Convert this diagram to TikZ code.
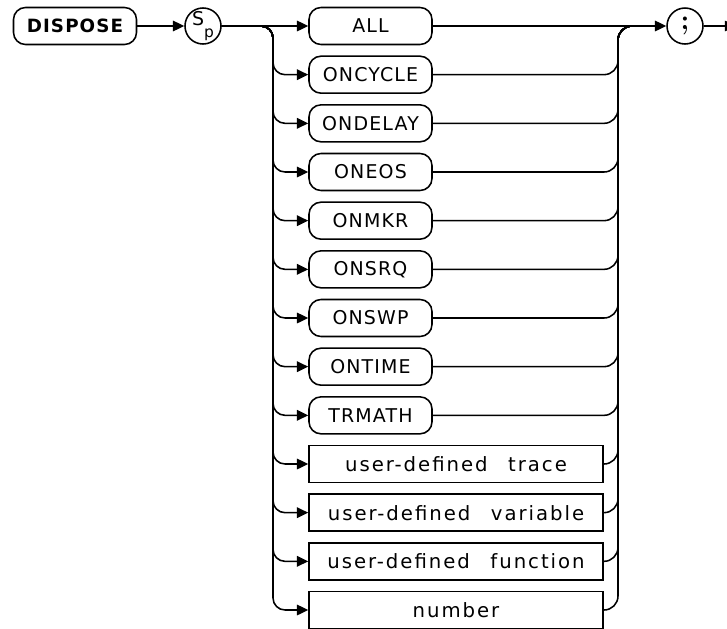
\documentclass[tikz,border=0pt]{standalone}
\usepackage{fontspec}
\newfontfamily\plotfont[LetterSpace=6]{DejaVu Sans}
\newfontfamily\plotwide[LetterSpace=10,WordSpace=2.5]{DejaVu Sans}
\usetikzlibrary{arrows.meta,positioning}

\begin{document}
\begin{tikzpicture}[
  font=\plotfont\fontsize{13.5}{15}\selectfont,
  node distance=0.253cm,
  key/.style={draw, line width=1.1pt, rounded corners=0.3cm, minimum width=3.075cm, minimum height=0.925cm, inner sep=2pt},
  param/.style={draw, line width=1.1pt, minimum width=7.35cm, minimum height=0.925cm, inner sep=2pt, font=\plotwide\fontsize{14}{16}\selectfont},
  term/.style={draw, line width=1.1pt, circle, minimum size=0.9cm, inner sep=0pt},
  arr/.style={-{Triangle[length=8pt,width=7.5pt]}, line width=1.1pt},
  wire/.style={line width=1.1pt}
]
  \useasboundingbox (0,0) rectangle (18.175,-15.725);
  \node[key, font=\plotfont\bfseries\fontsize{13}{15}\selectfont] (dispose) at (1.875,-0.65) {DISPOSE};
  \node[term] (sp) at (5.075,-0.65) {\raisebox{0.4ex}{S}\raisebox{-0.7ex}{\fontsize{11}{12}\selectfont p}};
  \node[key] (all) at (9.2625,-0.65) {ALL};
  \node[key, below=of all] (oncycle) {ONCYCLE};
  \node[key, below=of oncycle] (ondelay) {ONDELAY};
  \node[key, below=of ondelay] (oneos) {ONEOS};
  \node[key, below=of oneos] (onmkr) {ONMKR};
  \node[key, below=of onmkr] (onsrq) {ONSRQ};
  \node[key, below=of onsrq] (onswp) {ONSWP};
  \node[key, below=of onswp] (ontime) {ONTIME};
  \node[key, below=of ontime] (trmath) {TRMATH};
  \node[param, below=of trmath.south west, anchor=north west] (trace) {user-defined trace};
  \node[param, below=of trace] (variable) {user-defined variable};
  \node[param, below=of variable] (function) {user-defined function};
  \node[param, below=of function] (number) {number};
  \node[term, font=\bfseries\fontsize{20}{20}\selectfont] (semi) at (17.125,-0.65) {;};

  \coordinate (lbus) at (6.825,0);
  \coordinate (rbus) at (15.45,0);
  \coordinate (out) at (18.4,-0.65);

  % entry side
  \draw[arr] (dispose) -- (sp);
  \draw[arr] (sp) -- (all);
  \draw[arr, rounded corners=0.3cm] (sp.east) -| (lbus |- oncycle) -- (oncycle.west);
  \draw[arr, rounded corners=0.3cm] (sp.east) -| (lbus |- ondelay) -- (ondelay.west);
  \draw[arr, rounded corners=0.3cm] (sp.east) -| (lbus |- oneos) -- (oneos.west);
  \draw[arr, rounded corners=0.3cm] (sp.east) -| (lbus |- onmkr) -- (onmkr.west);
  \draw[arr, rounded corners=0.3cm] (sp.east) -| (lbus |- onsrq) -- (onsrq.west);
  \draw[arr, rounded corners=0.3cm] (sp.east) -| (lbus |- onswp) -- (onswp.west);
  \draw[arr, rounded corners=0.3cm] (sp.east) -| (lbus |- ontime) -- (ontime.west);
  \draw[arr, rounded corners=0.3cm] (sp.east) -| (lbus |- trmath) -- (trmath.west);
  \draw[arr, rounded corners=0.3cm] (sp.east) -| (lbus |- trace) -- (trace.west);
  \draw[arr, rounded corners=0.3cm] (sp.east) -| (lbus |- variable) -- (variable.west);
  \draw[arr, rounded corners=0.3cm] (sp.east) -| (lbus |- function) -- (function.west);
  \draw[arr, rounded corners=0.3cm] (sp.east) -| (lbus |- number) -- (number.west);

  % exit side
  \draw[arr] (all) -- (semi);
  \draw[wire, rounded corners=0.35cm] (oncycle.east) -| (rbus |- all) -- ++(0.6,0);
  \draw[wire, rounded corners=0.35cm] (ondelay.east) -| (rbus |- all) -- ++(0.6,0);
  \draw[wire, rounded corners=0.35cm] (oneos.east) -| (rbus |- all) -- ++(0.6,0);
  \draw[wire, rounded corners=0.35cm] (onmkr.east) -| (rbus |- all) -- ++(0.6,0);
  \draw[wire, rounded corners=0.35cm] (onsrq.east) -| (rbus |- all) -- ++(0.6,0);
  \draw[wire, rounded corners=0.35cm] (onswp.east) -| (rbus |- all) -- ++(0.6,0);
  \draw[wire, rounded corners=0.35cm] (ontime.east) -| (rbus |- all) -- ++(0.6,0);
  \draw[wire, rounded corners=0.35cm] (trmath.east) -| (rbus |- all) -- ++(0.6,0);
  \draw[wire, rounded corners=0.35cm] (trace.east) -| (rbus |- all) -- ++(0.6,0);
  \draw[wire, rounded corners=0.35cm] (variable.east) -| (rbus |- all) -- ++(0.6,0);
  \draw[wire, rounded corners=0.35cm] (function.east) -| (rbus |- all) -- ++(0.6,0);
  \draw[wire, rounded corners=0.35cm] (number.east) -| (rbus |- all) -- ++(0.6,0);
  \draw[arr] (semi) -- (out);
\end{tikzpicture}
\end{document}
